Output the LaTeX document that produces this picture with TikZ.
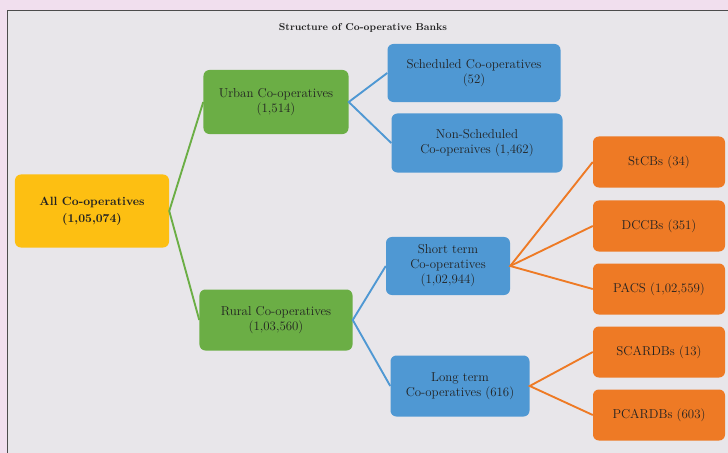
\documentclass[tikz,border=0pt]{standalone}
\usepackage{tikz}
\usetikzlibrary{positioning,calc}

\definecolor{pagepink}{HTML}{F1DFEE}
\definecolor{panelgrey}{HTML}{E8E6EA}
\definecolor{rootyellow}{HTML}{FDBF12}
\definecolor{levgreen}{HTML}{6BAE45}
\definecolor{levblue}{HTML}{4F98D3}
\definecolor{levorange}{HTML}{EE7A25}
\definecolor{txtdark}{HTML}{222222}

\begin{document}
\begin{tikzpicture}[x=0.03cm,y=-0.03cm,
	every node/.style={text=txtdark,align=center,inner sep=0pt,rounded corners=5pt,
		font=\fontsize{11}{12.8}\selectfont},
	rootbox/.style={fill=rootyellow,font=\fontsize{10.2}{14.5}\selectfont\bfseries,minimum width=4.62cm,minimum height=2.19cm},
	greenbox/.style={fill=levgreen},
	bluebox/.style={fill=levblue},
	orangebox/.style={fill=levorange,minimum width=3.96cm,minimum height=1.53cm},
	greenline/.style={levgreen,line width=1.6pt},
	blueline/.style={levblue,line width=1.6pt},
	orangeline/.style={levorange,line width=1.6pt}]
	
	% background and panel
	\useasboundingbox (0,0) rectangle (728,453);
	\fill[pagepink] (0,0) rectangle (728,453);
	\fill[panelgrey] (7,10) rectangle (728,453);
	\draw[black!70,line width=0.8pt] (728,10) -- (7,10) -- (7,453);
	
	\node[font=\fontsize{8.5}{10}\selectfont\bfseries] (title) at (363,28) {Structure of Co-operative Banks};
	
	% level 0 and 1
	\node[rootbox] (all) at (92,211) {All Co-operatives\\(1,05,074)};
	\node[greenbox,minimum width=4.35cm,minimum height=1.92cm] (urban) at (276,102) {Urban Co-operatives\\(1,514)};
	\node[greenbox,minimum width=4.59cm,minimum height=1.83cm] (rural) at (276,320) {Rural Co-operatives\\(1,03,560)};
	
	% level 2
	\node[bluebox,minimum width=5.19cm,minimum height=1.74cm] (sched) at (474,73) {Scheduled Co-operatives\\(52)};
	\node[bluebox,minimum width=5.13cm,minimum height=1.77cm] (nonsched) at (477,143) {Non-Scheduled\\Co-operaives (1,462)};
	\node[bluebox,minimum width=3.72cm,minimum height=1.74cm] (short) at (448,266) {Short term\\Co-operatives\\(1,02,944)};
	\node[bluebox,minimum width=4.17cm,minimum height=1.83cm] (long) at (460,386) {Long term\\Co-operatives (616)};
	
	% level 3
	\node[orangebox] (stcb) at (659,162) {StCBs (34)};
	\node[orangebox] (dccb) at (659,226) {DCCBs (351)};
	\node[orangebox] (pacs) at (659,289) {PACS (1,02,559)};
	\node[orangebox] (scardb) at (659,352) {SCARDBs (13)};
	\node[orangebox] (pcardb) at (659,415) {PCARDBs (603)};
	
	% connectors
	\draw[greenline] (urban.west) -- (all.east) -- (rural.west);
	\draw[blueline] (sched.west) -- (urban.east) -- (nonsched.west);
	\draw[blueline] (short.west) -- (rural.east) -- (long.west);
	\draw[orangeline] (stcb.west) -- (short.east) -- (pacs.west);
	\draw[orangeline] (short.east) -- (dccb.west);
	\draw[orangeline] (scardb.west) -- (long.east) -- (pcardb.west);
	
\end{tikzpicture}
\end{document}
